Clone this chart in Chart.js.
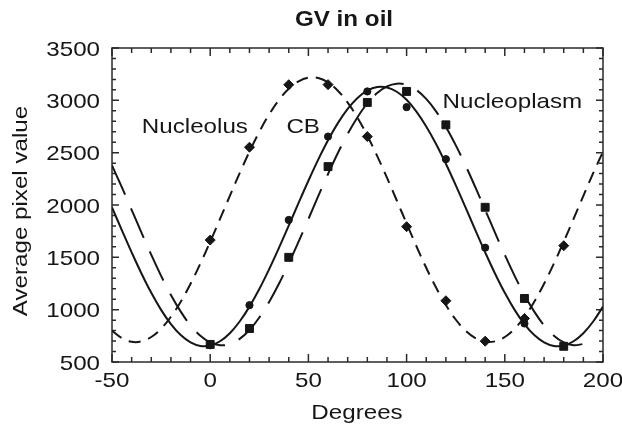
<!DOCTYPE html>
<html>
<head>
<meta charset="utf-8">
<title>GV in oil</title>
<script src="https://cdn.jsdelivr.net/npm/chart.js@4.4.0/dist/chart.umd.min.js"></script>
<style>
  html, body { margin: 0; padding: 0; background: #fff; }
  #wrap { width: 622px; height: 428px; }
</style>
</head>
<body>
<div id="wrap"><canvas id="gv-chart" width="622" height="428"></canvas></div>
<script>
// Measured values (degrees -> average pixel value)
const pointDegrees = [0, 20, 40, 60, 80, 100, 120, 140, 160, 180];
const nucleolusPoints = [1665, 2552, 3149, 3150, 2654, 1793, 1085, 699, 916, 1611];
const cbPoints = [660, 1043, 1857, 2654, 3085, 2935, 2438, 1592, 868, 654];
const nucleoplasmPoints = [668, 820, 1500, 2367, 2980, 3085, 2766, 1978, 1107, 650];

const curveDegrees = [-50, -45, -40, -35, -30, -25, -20, -15, -10, -5, 0, 5, 10, 15, 20, 25, 30, 35, 40, 45,
    50, 55, 60, 65, 70, 75, 80, 85, 90, 95, 100, 105, 110, 115, 120, 125, 130, 135, 140, 145,
    150, 155, 160, 165, 170, 175, 180, 185, 190, 195, 200];
const nucleolusFit = [799, 728, 693, 697, 739, 818, 932, 1076, 1248, 1441, 1649, 1867, 2087, 2304, 2510, 2699, 2865, 3004, 3111, 3182,
    3217, 3213, 3171, 3092, 2978, 2834, 2662, 2469, 2261, 2043, 1823, 1606, 1400, 1211, 1045, 906, 799, 728, 693, 697,
    739, 818, 932, 1076, 1248, 1441, 1649, 1867, 2087, 2304, 2510];
const cbFit = [1977, 1760, 1548, 1346, 1161, 998, 862, 757, 687, 653, 657, 698, 775, 887, 1029, 1197, 1386, 1590, 1803, 2020,
    2232, 2434, 2619, 2782, 2918, 3023, 3093, 3127, 3123, 3082, 3005, 2893, 2751, 2583, 2394, 2190, 1977, 1760, 1548, 1346,
    1161, 998, 862, 757, 687, 653, 657, 698, 775, 887, 1029];
const nucleoplasmFit = [2378, 2170, 1954, 1736, 1524, 1323, 1140, 981, 850, 751, 687, 661, 672, 721, 806, 925, 1074, 1248, 1442, 1650,
    1866, 2084, 2296, 2497, 2680, 2839, 2970, 3069, 3133, 3159, 3148, 3099, 3014, 2895, 2746, 2572, 2378, 2170, 1954, 1736,
    1524, 1323, 1140, 981, 850, 751, 687, 661, 672];

// Axis tick labels
const xTickLabels = ['-50', '0', '50', '100', '150', '200'];
const yTickLabels = ['500', '1000', '1500', '2000', '2500', '3000', '3500'];

// In-plot labels: text and anchor in data units
const curveLabels = [
    { text: 'Nucleolus', x: -34.8, y: 2692 },
    { text: 'CB', x: 38.8, y: 2692 },
    { text: 'Nucleoplasm', x: 118.3, y: 2926 }
];

const INK = '#161616';
const FONT = '"Liberation Sans", Arial, Helvetica, sans-serif';
const STRETCH = 1.15; // the original lettering is a bit wider than Arial

function toXY(xs, ys) {
    return ys.map((y, i) => ({ x: xs[i], y: y }));
}

// Draw text stretched horizontally along its own direction
function stretchedText(ctx, str, x, y, opts) {
    ctx.save();
    ctx.translate(x, y);
    if (opts.rotate) ctx.rotate(opts.rotate);
    ctx.scale(opts.stretch || STRETCH, 1);
    ctx.font = opts.font;
    ctx.fillStyle = INK;
    ctx.textAlign = opts.align || 'left';
    ctx.textBaseline = 'alphabetic';
    ctx.fillText(str, 0, 0);
    ctx.restore();
}

// Frame with inward ticks on all four sides, and all the lettering
const framePlugin = {
    id: 'gvFrame',
    beforeDatasetsDraw(chart) {
        const ctx = chart.ctx;
        const area = chart.chartArea;
        const xs = chart.scales.x;
        const ys = chart.scales.y;
        ctx.save();
        ctx.strokeStyle = '#2a2a2a';
        ctx.lineWidth = 1.5;
        ctx.strokeRect(area.left, area.top, area.right - area.left, area.bottom - area.top);
        ctx.beginPath();
        for (let v = xs.min; v <= xs.max; v += 10) {
            const px = xs.getPixelForValue(v);
            const len = v % 50 === 0 ? 8 : 5;
            ctx.moveTo(px, area.bottom);
            ctx.lineTo(px, area.bottom - len);
            ctx.moveTo(px, area.top);
            ctx.lineTo(px, area.top + len);
        }
        for (let v = ys.min; v <= ys.max; v += 100) {
            const py = ys.getPixelForValue(v);
            const len = v % 500 === 0 ? 7 : 4;
            ctx.moveTo(area.left, py);
            ctx.lineTo(area.left + len, py);
            ctx.moveTo(area.right, py);
            ctx.lineTo(area.right - len, py);
        }
        ctx.stroke();
        ctx.restore();
    },
    afterDraw(chart) {
        const ctx = chart.ctx;
        const area = chart.chartArea;
        const xs = chart.scales.x;
        const ys = chart.scales.y;
        const font = '21px ' + FONT;

        yTickLabels.forEach(lab => {
            stretchedText(ctx, lab, area.left - 12, ys.getPixelForValue(parseFloat(lab)) + 7.5, { font: font, align: 'right' });
        });
        xTickLabels.forEach(lab => {
            stretchedText(ctx, lab, xs.getPixelForValue(parseFloat(lab)), area.bottom + 25, { font: font, align: 'center' });
        });

        stretchedText(ctx, 'Degrees', 357, 419, { font: font, align: 'center' });
        stretchedText(ctx, 'Average pixel value', 27, 211, { font: font, align: 'center', rotate: -Math.PI / 2 });
        stretchedText(ctx, 'GV in oil', 344, 26, { font: 'bold 22px ' + FONT, align: 'center', stretch: 1.1 });

        curveLabels.forEach(l => {
            stretchedText(ctx, l.text, xs.getPixelForValue(l.x), ys.getPixelForValue(l.y), { font: font });
        });
    }
};

const markerBase = {
    type: 'scatter',
    showLine: false,
    backgroundColor: INK,
    borderColor: INK,
    borderWidth: 1
};

const curveBase = {
    type: 'line',
    showLine: true,
    pointRadius: 0,
    borderColor: INK,
    borderWidth: 2,
    tension: 0.4,
    fill: false
};

new Chart(document.getElementById('gv-chart'), {
    type: 'scatter',
    data: {
        datasets: [
            Object.assign({}, markerBase, { label: 'Nucleolus', data: toXY(pointDegrees, nucleolusPoints), pointStyle: 'rectRot', pointRadius: 5 }),
            Object.assign({}, markerBase, { label: 'CB', data: toXY(pointDegrees, cbPoints), pointStyle: 'circle', pointRadius: 3.6 }),
            Object.assign({}, markerBase, { label: 'Nucleoplasm', data: toXY(pointDegrees, nucleoplasmPoints), pointStyle: 'rect', pointRadius: 5.6 }),
            Object.assign({}, curveBase, { label: 'Nucleolus fit', data: toXY(curveDegrees, nucleolusFit), borderDash: [12, 8] }),
            Object.assign({}, curveBase, { label: 'CB fit', data: toXY(curveDegrees, cbFit) }),
            Object.assign({}, curveBase, { label: 'Nucleoplasm fit', data: toXY(curveDegrees, nucleoplasmFit), borderDash: [32, 15] })
        ]
    },
    options: {
        responsive: false,
        animation: false,
        devicePixelRatio: 1,
        layout: { padding: { left: 0, top: 48, right: 19, bottom: 0 } },
        plugins: {
            legend: { display: false },
            title: { display: false },
            tooltip: { enabled: false }
        },
        scales: {
            x: {
                type: 'linear',
                min: -50,
                max: 200,
                grid: { display: false },
                border: { display: false },
                ticks: { display: false },
                afterFit(scale) { scale.height = 66; }
            },
            y: {
                type: 'linear',
                min: 500,
                max: 3500,
                grid: { display: false },
                border: { display: false },
                ticks: { display: false },
                afterFit(scale) { scale.width = 112; }
            }
        }
    },
    plugins: [framePlugin]
});
</script>
</body>
</html>
